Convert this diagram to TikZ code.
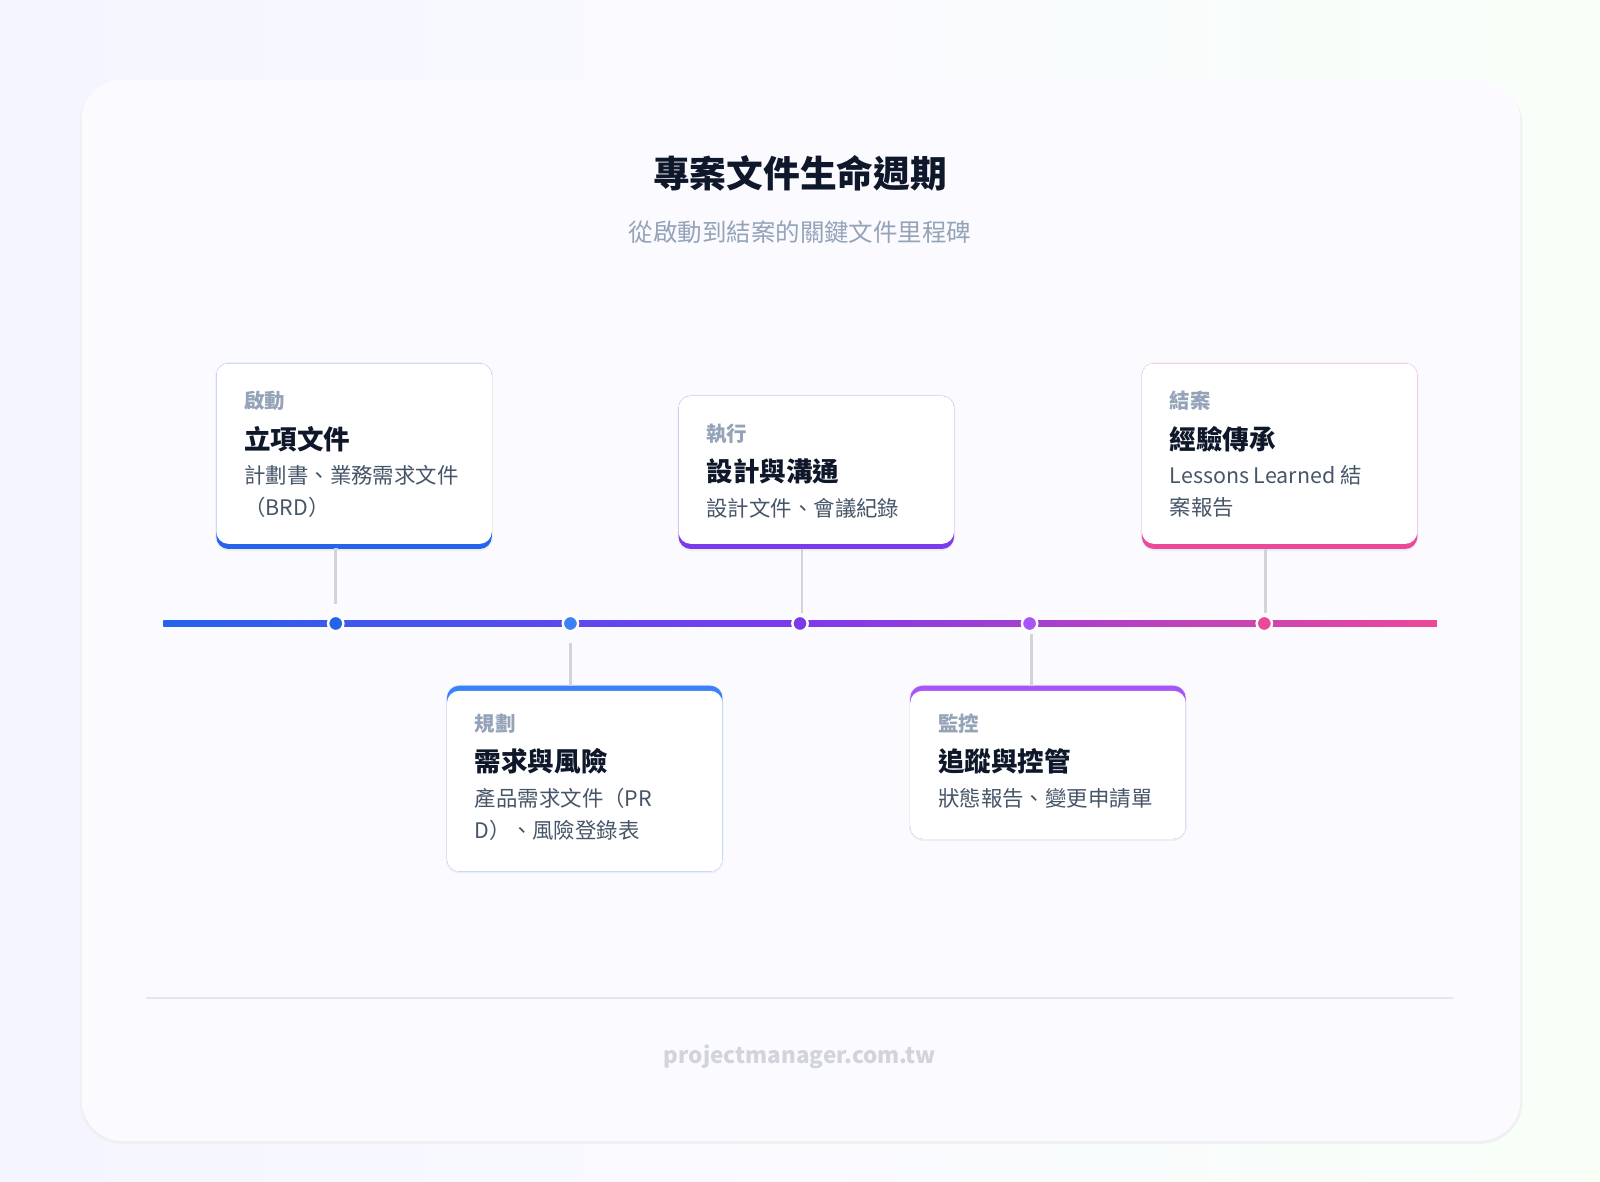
\documentclass[tikz,border=0pt]{standalone}
\usepackage{fontspec}
\setmainfont{Noto Sans CJK TC}
\usetikzlibrary{positioning}
\definecolor{inkdark}{HTML}{0F172A}
\definecolor{inkgray}{HTML}{475569}
\definecolor{labgray}{HTML}{94A3B8}
\definecolor{cardline}{HTML}{E5E7EB}
\definecolor{stemgray}{HTML}{D1D5DB}
\definecolor{cBlue}{HTML}{2563EB}
\definecolor{cSky}{HTML}{3B82F6}
\definecolor{cViolet}{HTML}{7C3AED}
\definecolor{cPurple}{HTML}{A855F7}
\definecolor{cPink}{HTML}{EC4899}
\tikzset{
    phaselabel/.style={anchor=west,inner sep=0,text=labgray,font=\fontsize{10}{12}\selectfont\bfseries},
    phasetitle/.style={anchor=west,inner sep=0,text=inkdark,font=\fontsize{13}{15}\selectfont\bfseries},
    phasedesc/.style={anchor=north west,inner sep=0,align=left,text=inkgray,font=\fontsize{10.5}{15.5}\selectfont},
    dot/.style={circle,fill=#1,draw=white,line width=1.2pt,inner sep=0,minimum size=7.5pt},
    stem/.style={draw=stemgray,line width=1.3pt},
}
% #1 name, #2 x, #3 top, #4 height, #5 colour, #6 accent shift (+5 bottom, -5 top), #7 label, #8 title, #9 text
\newcommand\PhaseCard[9]{%
    \fill[cardline!70,rounded corners=7pt] (#2-1,#3-1) rectangle ++(272,#4+3);
    \fill[#5,rounded corners=6pt] (#2,#3) rectangle ++(270,#4);
    \ifdim #6pt>0pt
      \fill[white,rounded corners=6pt] (#2,#3) rectangle ++(270,#4-5);
    \else
      \fill[white,rounded corners=6pt] (#2,#3+5) rectangle ++(270,#4-5);
    \fi
    \node[phaselabel] (#1lab) at (#2+27,#3+37) {#7};
    \node[phasetitle] (#1ttl) at (#2+27,#3+74) {#8};
    \node[phasedesc] (#1txt) at (#2+27,#3+100) {#9};
}
\begin{document}
\begin{tikzpicture}[x=0.5pt,y=-0.5pt]
    \useasboundingbox (0,0) rectangle (1568,1158);
    \shade[left color=blue!4,right color=green!3,middle color=blue!2] (0,0) rectangle (1568,1158);
    % main card
    \fill[gray!12,rounded corners=21pt] (78,80) rectangle (1492,1121);
    \fill[white!98!blue,rounded corners=20pt] (80,78) rectangle (1490,1118);
    \node[font=\fontsize{18}{20}\selectfont\bfseries,text=inkdark] (title) at (784,170) {專案文件生命週期};
    \node[font=\fontsize{12}{14}\selectfont,text=labgray] (subtitle) at (784,228) {從啟動到結案的關鍵文件里程碑};
    % timeline
    \shade[left color=cBlue,right color=cViolet] (160,608.5) rectangle (784,613.5);
    \shade[left color=cViolet,right color=cPink] (784,608.5) rectangle (1408,613.5);
    \node[dot=cBlue] (d1) at (329,611) {};
    \node[dot=cSky] (d2) at (559,611) {};
    \node[dot=cViolet] (d3) at (784,611) {};
    \node[dot=cPurple] (d4) at (1009,611) {};
    \node[dot=cPink] (d5) at (1239,611) {};
    % cards
    \PhaseCard{p1}{212}{356}{182}{cBlue}{5}{啟動}{立項文件}{計劃書、業務需求文件\\（BRD）}
    \PhaseCard{p2}{438}{672}{182}{cSky}{-5}{規劃}{需求與風險}{產品需求文件（PR\\D）、風險登錄表}
    \PhaseCard{p3}{665}{388}{150}{cViolet}{5}{執行}{設計與溝通}{設計文件、會議紀錄}
    \PhaseCard{p4}{892}{672}{150}{cPurple}{-5}{監控}{追蹤與控管}{狀態報告、變更申請單}
    \PhaseCard{p5}{1119}{356}{182}{cPink}{5}{結案}{經驗傳承}{Lessons Learned 結\\案報告}
    \coordinate (s1) at (331,538);
    \coordinate (s2) at (559,672);
    \coordinate (s3) at (786,538);
    \coordinate (s4) at (1011,672);
    \coordinate (s5) at (1240,538);
    \draw[stem,shorten >=5pt] (s1) -- (d1 |- s1) -- (d1);
    \draw[stem,shorten <=5pt] (d2) -- (s2);
    \draw[stem,shorten >=5pt] (s3) -- (s3 |- d3);
    \draw[stem,shorten <=5pt] (s4 |- d4) -- (s4);
    \draw[stem,shorten >=5pt] (s5) -- (s5 |- d5);
    % footer
    \draw[cardline,line width=0.7pt] (143,978) -- (1424,978);
    \node[font=\fontsize{11}{13}\selectfont\bfseries,text=stemgray] (footer) at (784,1036) {projectmanager.com.tw};
\end{tikzpicture}
\end{document}
